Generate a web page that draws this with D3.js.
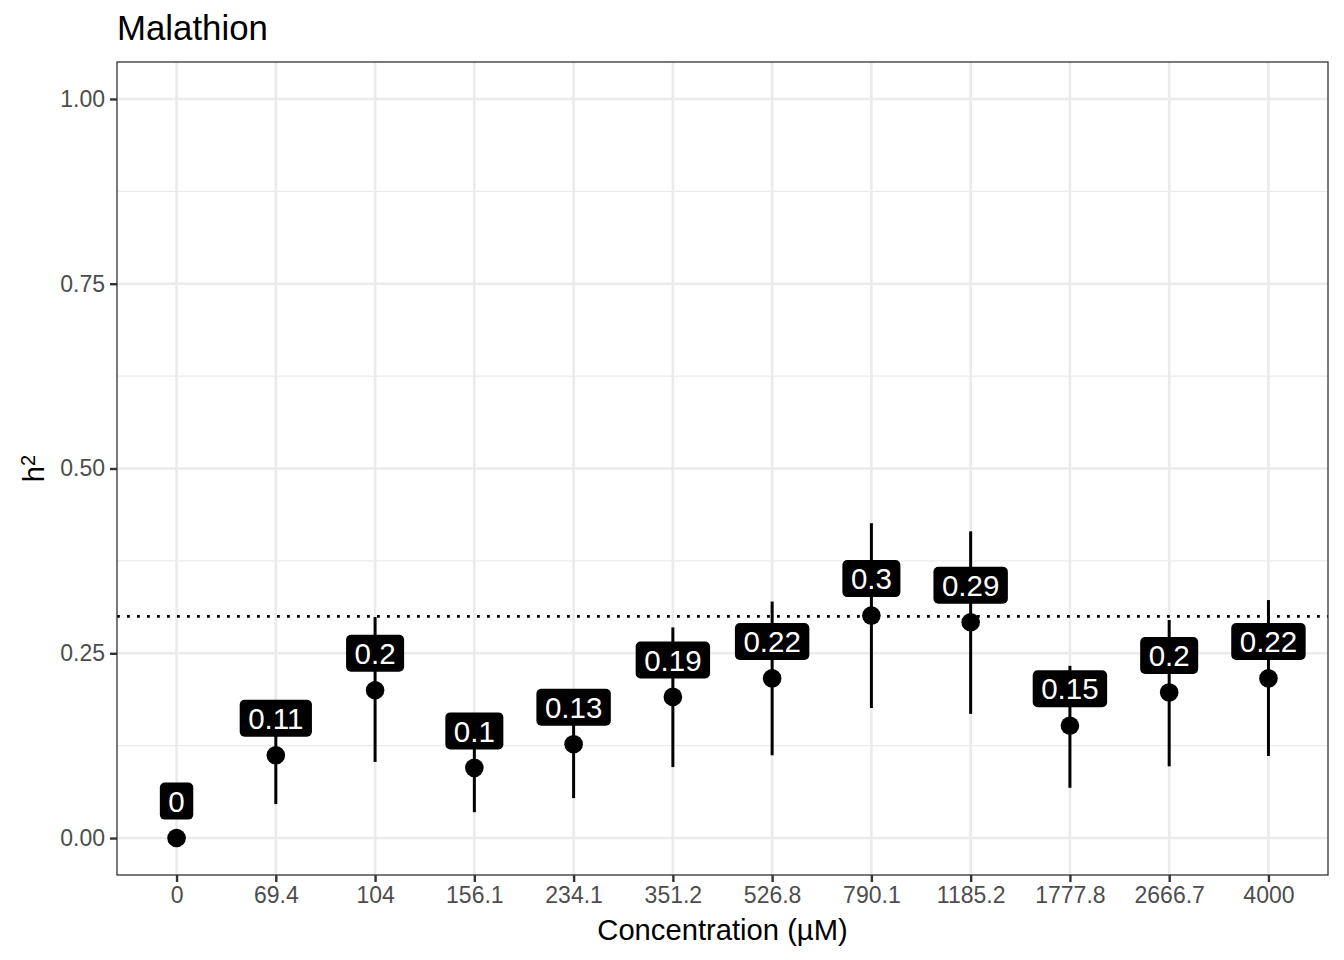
<!DOCTYPE html>
<html>
<head>
<meta charset="utf-8">
<script src="https://cdn.jsdelivr.net/npm/d3@7"></script>
<style>
  html, body { margin: 0; padding: 0; background: #fff; }
  svg { display: block; font-family: "Liberation Sans", Arial, Helvetica, sans-serif; }
</style>
</head>
<body>
<svg id="chart" width="1344" height="960"></svg>
<script>
// ---- data ----
const categories = ["0", "69.4", "104", "156.1", "234.1", "351.2", "526.8", "790.1", "1185.2", "1777.8", "2666.7", "4000"];
const h2 = [0, 0.112, 0.200, 0.095, 0.127, 0.191, 0.216, 0.301, 0.292, 0.152, 0.197, 0.216];
const lower = [0, 0.046, 0.103, 0.035, 0.054, 0.096, 0.112, 0.176, 0.168, 0.068, 0.097, 0.111];
const upper = [0, 0.170, 0.299, 0.155, 0.190, 0.285, 0.320, 0.426, 0.415, 0.233, 0.295, 0.322];
const labels = ["0", "0.11", "0.2", "0.1", "0.13", "0.19", "0.22", "0.3", "0.29", "0.15", "0.2", "0.22"];
const yTicks = [0, 0.25, 0.5, 0.75, 1.0];
const yMinor = [0.125, 0.375, 0.625, 0.875];
const refLine = 0.3;
const titleText = "Malathion";
const xTitle = "Concentration (\u00B5M)";

const rows = categories.map((c, i) => ({ c, v: h2[i], lo: lower[i], hi: upper[i], lab: labels[i] }));

// ---- layout ----
const panel = { left: 117, right: 1328, top: 62, bottom: 875 };
const svg = d3.select("#chart");

const x = d3.scalePoint().domain(categories).range([panel.left, panel.right]).padding(0.6);
const y = d3.scaleLinear().domain([-0.05, 1.05]).range([panel.bottom, panel.top]);

svg.append("rect").attr("x", panel.left).attr("y", panel.top)
  .attr("width", panel.right - panel.left).attr("height", panel.bottom - panel.top)
  .attr("fill", "#fff");

const grid = svg.append("g");
grid.selectAll(".minor").data(yMinor).join("line")
  .attr("x1", panel.left).attr("x2", panel.right)
  .attr("y1", d => y(d)).attr("y2", d => y(d))
  .attr("stroke", "#EBEBEB").attr("stroke-width", 1.3);
grid.selectAll(".majy").data(yTicks).join("line")
  .attr("x1", panel.left).attr("x2", panel.right)
  .attr("y1", d => y(d)).attr("y2", d => y(d))
  .attr("stroke", "#EBEBEB").attr("stroke-width", 2.6);
grid.selectAll(".majx").data(categories).join("line")
  .attr("x1", d => x(d)).attr("x2", d => x(d))
  .attr("y1", panel.top).attr("y2", panel.bottom)
  .attr("stroke", "#EBEBEB").attr("stroke-width", 2.6);

// reference line
svg.append("line")
  .attr("x1", panel.left).attr("x2", panel.right)
  .attr("y1", y(refLine)).attr("y2", y(refLine))
  .attr("stroke", "#000").attr("stroke-width", 2.8)
  .attr("stroke-dasharray", "2.8 7.2");

// error bars
svg.append("g").selectAll("line").data(rows.filter(d => d.hi > d.lo)).join("line")
  .attr("x1", d => x(d.c)).attr("x2", d => x(d.c))
  .attr("y1", d => y(d.lo)).attr("y2", d => y(d.hi))
  .attr("stroke", "#000").attr("stroke-width", 3);

// points
svg.append("g").selectAll("circle").data(rows).join("circle")
  .attr("cx", d => x(d.c)).attr("cy", d => y(d.v)).attr("r", 9.3)
  .attr("fill", "#000");

// labels
const labFont = 29.5;
const pad = 8.5;
const lg = svg.append("g").selectAll("g").data(rows).join("g")
  .attr("transform", d => `translate(${x(d.c)},${y(d.v + 0.05)})`);
const labTexts = lg.append("text")
  .attr("text-anchor", "middle")
  .attr("dy", "0.36em")
  .attr("font-size", labFont)
  .attr("fill", "#fff")
  .text(d => d.lab);
labTexts.each(function () {
  const w = this.getComputedTextLength();
  const h = 37;
  d3.select(this.parentNode).insert("rect", "text")
    .attr("x", -w / 2 - pad).attr("y", -h / 2)
    .attr("width", w + 2 * pad).attr("height", h)
    .attr("rx", 5).attr("ry", 5)
    .attr("fill", "#000");
});

// panel border
svg.append("rect").attr("x", panel.left).attr("y", panel.top)
  .attr("width", panel.right - panel.left).attr("height", panel.bottom - panel.top)
  .attr("fill", "none").attr("stroke", "#333333").attr("stroke-width", 1.3);

// axes
const yAxis = svg.append("g").attr("transform", `translate(${panel.left},0)`)
  .call(d3.axisLeft(y).tickValues(yTicks).tickFormat(d3.format(".2f")).tickSize(7).tickPadding(5));
const xAxis = svg.append("g").attr("transform", `translate(0,${panel.bottom})`)
  .call(d3.axisBottom(x).tickSize(7).tickPadding(5));
[yAxis, xAxis].forEach(a => {
  a.select(".domain").remove();
  a.selectAll(".tick line").attr("stroke", "#333333").attr("stroke-width", 2.4);
  a.selectAll(".tick text").attr("fill", "#4D4D4D").attr("font-size", 23)
    .attr("font-family", "Liberation Sans, Arial, sans-serif");
});

// titles
svg.append("text").attr("x", panel.left).attr("y", 40)
  .attr("font-size", 34.8).attr("fill", "#000").text(titleText);
svg.append("text").attr("x", (panel.left + panel.right) / 2).attr("y", 940)
  .attr("text-anchor", "middle").attr("font-size", 29.2).attr("fill", "#000").text(xTitle);
const yt = svg.append("text")
  .attr("transform", `translate(44,${(panel.top + panel.bottom) / 2}) rotate(-90)`)
  .attr("text-anchor", "middle").attr("font-size", 29).attr("fill", "#000");
yt.append("tspan").text("h");
yt.append("tspan").attr("dy", "-0.45em").attr("font-size", 20).text("2");
</script>
</body>
</html>
